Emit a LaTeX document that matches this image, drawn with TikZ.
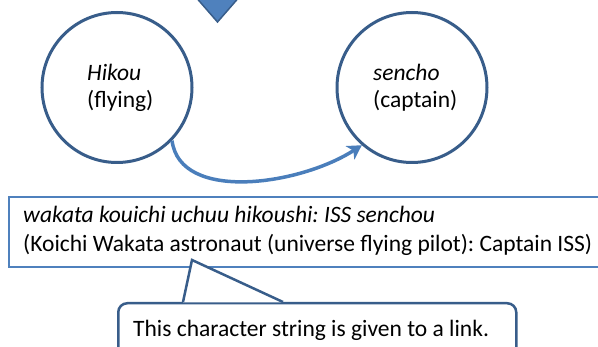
\documentclass[tikz,border=0pt]{standalone}
\usepackage{fontspec}
\setmainfont{Carlito}
\usetikzlibrary{arrows.meta}
\frenchspacing
\definecolor{darkline}{HTML}{385D8A}
\definecolor{accent}{HTML}{4F81BD}
\definecolor{arrowblue}{HTML}{4A7EBB}
\tikzset{
  bubble/.style={circle, draw=darkline, line width=3pt, fill=white, minimum size=150pt, inner sep=0pt},
  label/.style={anchor=base west, inner sep=0pt, align=left, font=\fontsize{23.5}{27}\selectfont},
  flow/.style={draw=arrowblue, line width=3.5pt, -{Stealth[length=14pt,width=16pt,inset=4pt]}},
  textbox/.style={draw=accent, line width=2pt, fill=white, inner sep=0pt},
  callout/.style={draw=darkline, line width=2.5pt, fill=white, rounded corners=9pt, inner sep=0pt},
}
\begin{document}
\begin{tikzpicture}[x=1pt,y=1pt]
\useasboundingbox (0,0) rectangle (598,-347);
% triangle at top
\draw[fill=accent, draw=darkline, line width=1.5pt, line join=miter] (194,5) -- (241,5) -- (217.5,-22) -- cycle;
% circles
\node[bubble] (L) at (117,-87.5) {};
\node[bubble] (R) at (412,-87.5) {};
\node[label] (Ltext) at (87,-108) {\textit{Hikou}\\(flying)};
\node[label] (Rtext) at (373,-108) {\textit{sencho}\\(captain)};
% arrow
\draw[flow] (L.-44) .. controls +(8,-62) and +(-62,-40) .. (R.-131);
% text box
\node[textbox, minimum width=600pt, minimum height=70pt, anchor=north west] (box) at (8,-196) {};
\node[label, font=\fontsize{23.5}{29}\selectfont] (boxtext) at (23,-252) {\textit{wakata kouichi uchuu hikoushi: ISS senchou}\\(Koichi Wakata astronaut (universe flying pilot): Captain ISS)};
% callout
\node[callout, minimum width=398pt, minimum height=80pt, anchor=north west] (call) at (117,-302) {};
\coordinate (tip) at (192,-260);
\fill[white] (183,-302.5) -- (tip) -- (283,-302.5) -- cycle;
\draw[darkline, line width=2.5pt, line join=miter] (183,-302) -- (tip) -- (283,-302);
\node[label] (calltext) at (133,-337) {This character string is given to a link.};
\end{tikzpicture}
\end{document}
